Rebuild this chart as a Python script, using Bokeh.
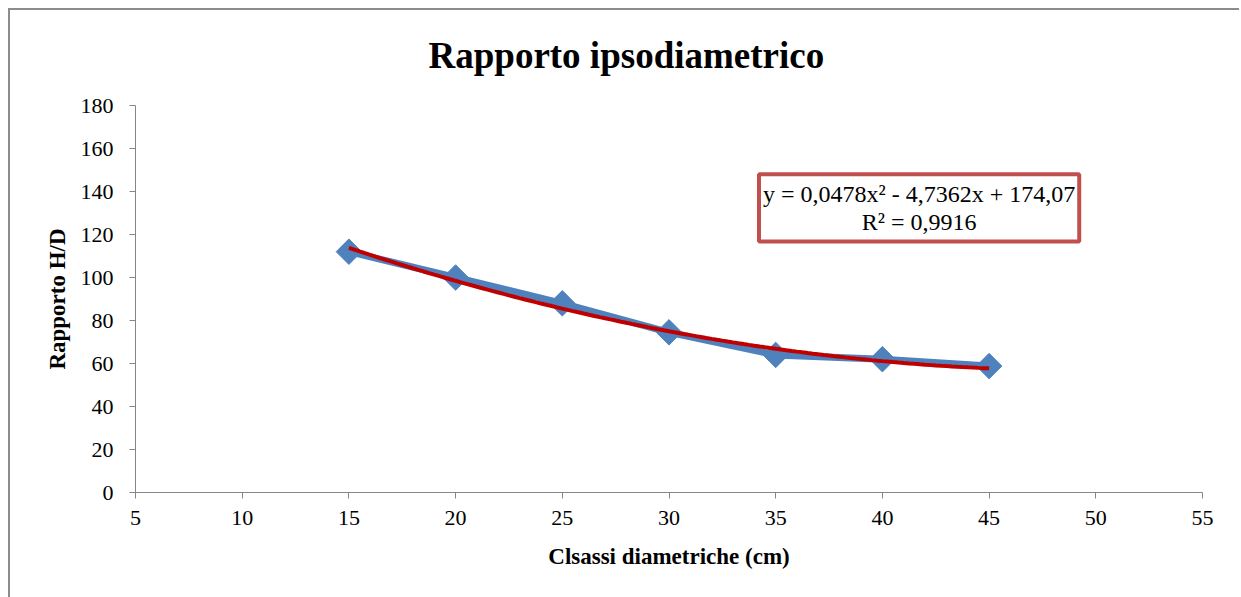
import numpy as np
from bokeh.plotting import figure
from bokeh.models import Range1d, Label, FixedTicker
from bokeh.embed import file_html
from bokeh.resources import INLINE

# Data
diam_classes = [15, 20, 25, 30, 35, 40, 45]
hd_ratio = [112, 100, 88, 74.5, 64, 62, 58.8]
trend_coef = [0.0478, -4.7362, 174.07]   # y = a x^2 + b x + c (trendline shown)
trend_r2 = 0.9916
x_ticks = [5, 10, 15, 20, 25, 30, 35, 40, 45, 50, 55]
y_ticks = [0, 20, 40, 60, 80, 100, 120, 140, 160, 180]
chart_title = "Rapporto ipsodiametrico"

SERIF = "Liberation Serif"

p = figure(width=1241, height=597, output_backend="svg", toolbar_location=None,
           x_range=Range1d(5, 55), y_range=Range1d(0, 180),
           min_border_left=135, min_border_right=39, min_border_top=105, min_border_bottom=105)
# outer chart-area border (left and top edges visible in the window)
p.styles = {
    "background-color": "white",
    "background-image": "linear-gradient(#8c8c8c, #8c8c8c), linear-gradient(#8c8c8c, #8c8c8c)",
    "background-size": "calc(100% - 10px) 2px, 2px calc(100% - 8px)",
    "background-position": "8px 8px, 8px 8px",
    "background-repeat": "no-repeat",
}
p.border_fill_alpha = 0
p.background_fill_color = "white"

p.title.text = chart_title
p.title.align = "left"
p.title.offset = 293
p.title.text_font = SERIF
p.title.text_font_size = "37px"
p.title.text_font_style = "bold"
p.title.text_color = "black"
p.title.standoff = 60

p.grid.visible = False
p.outline_line_color = None

for ax in (p.xaxis[0], p.yaxis[0]):
    ax.axis_line_color = "#868686"
    ax.major_tick_line_color = "#868686"
    ax.minor_tick_line_color = None
    ax.major_tick_in = 0
    ax.major_tick_out = 6
    ax.major_label_text_font = SERIF
    ax.major_label_text_font_size = "22px"
    ax.major_label_text_color = "black"
    ax.axis_label_text_font = SERIF
    ax.axis_label_text_font_size = "23px"
    ax.axis_label_text_font_style = "bold"
    ax.axis_label_text_color = "black"

p.xaxis.ticker = FixedTicker(ticks=x_ticks)
p.yaxis.ticker = FixedTicker(ticks=y_ticks)
p.xaxis.axis_label = "Clsassi diametriche (cm)"
p.yaxis.axis_label = "Rapporto H/D"
p.xaxis.major_label_standoff = 12
p.xaxis.axis_label_standoff = 16
p.yaxis.major_label_standoff = 16
p.yaxis.axis_label_standoff = 8

# data series
p.line(diam_classes, hd_ratio, line_color="#4F81BD", line_width=7, line_join="round")
p.scatter(diam_classes, hd_ratio, marker="square", angle=np.pi / 4, size=18,
          fill_color="#4F81BD", line_color="#4F81BD")

# trendline
xt = np.linspace(min(diam_classes), max(diam_classes), 121)
yt = np.polyval(trend_coef, xt)
p.line(xt, yt, line_color="#C00000", line_width=4)

eq = Label(x=41.72, y=148, x_units="data", y_units="data",
           text="y = 0,0478x\u00b2 - 4,7362x + 174,07\nR\u00b2 = 0,9916",
           text_align="center", text_baseline="top", text_line_height=1.05,
           text_font=SERIF, text_font_size="24px", text_color="black",
           border_line_color="#C0504D", border_line_width=4,
           background_fill_color="white", padding=(4, 7))
p.add_layout(eq)

open("out.html", "w").write(file_html(p, INLINE))
